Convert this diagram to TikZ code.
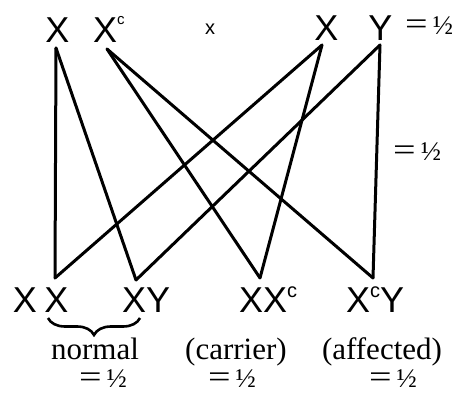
\documentclass[tikz,border=0pt]{standalone}
\usepackage{graphicx}
\usepackage{fontspec}
\setmainfont{Liberation Serif}
\newfontfamily\sansf{Liberation Sans}
\usetikzlibrary{decorations.pathreplacing}
\tikzset{
  gene/.style={inner sep=0pt, anchor=base, font=\sansf\fontsize{36}{36}\selectfont},
  lbl/.style={inner sep=0pt, anchor=base, font=\fontsize{31}{31}\selectfont},
  half/.style={inner sep=0pt, anchor=base, font=\fontsize{27}{27}\selectfont},
  link/.style={line width=3pt, line cap=round},
}
\newcommand{\supc}[2]{\raisebox{#1}{\fontsize{#2}{#2}\selectfont c}}
\newcommand{\eqhalf}{\scalebox{1.25}[1]{\fontsize{32}{32}\selectfont=}\hspace{5pt}½}
\begin{document}
\begin{tikzpicture}[x=1pt,y=-1pt]
\useasboundingbox (0,0) rectangle (461,393);
% top row
\node[gene] (pX) at (57.5,43) {X};
\node[gene, anchor=base west] (pXc) at (93,43) {X\supc{18pt}{15}};
\node[inner sep=0pt, anchor=base, font=\sansf\fontsize{20}{20}\selectfont] (sx) at (210,35) {x};
\node[gene] (mX) at (326.5,41) {X};
\node[gene] (mY) at (380.5,41) {Y};
\node[half, anchor=base west] (h1) at (405,35) {\eqhalf};
\node[half, anchor=base west] (h2) at (393,161) {\eqhalf};
% bottom row
\node[gene] (cX1) at (25,312) {X};
\node[gene] (cX2) at (56.5,312) {X};
\node[gene, anchor=base west] (cXY) at (122,312) {XY};
\node[gene, anchor=base west] (cXXc) at (239,312) {XX\supc{15pt}{20}};
\node[gene, anchor=base west] (cXcY) at (346,312) {X\supc{15pt}{20}Y};
% labels
\node[lbl] (n1) at (95,359) {normal};
\node[lbl] (n2) at (236,359) {(carrier)};
\node[lbl] (n3) at (382,359) {(affected)};
\node[half] (f1) at (103,387) {\eqhalf};
\node[half] (f2) at (232,387) {\eqhalf};
\node[half] (f3) at (393,387) {\eqhalf};
% endpoints
\coordinate (tX) at (56,48);
\coordinate (tXc) at (107,49);
\coordinate (tXr) at (322,45);
\coordinate (tY) at (380,45);
\coordinate (bXX) at (55,278);
\coordinate (bXY) at (136,280);
\coordinate (bXXc) at (260,278);
\coordinate (bXcY) at (373,278);
\draw[link] (tX) -- (bXX);
\draw[link] (tX) -- (bXY);
\draw[link] (tXc) -- (bXXc);
\draw[link] (tXc) -- (bXcY);
\draw[link] (tXr) -- (bXX);
\draw[link] (tXr) -- (bXXc);
\draw[link] (tY) -- (bXY);
\draw[link] (tY) -- (bXcY);
% brace
\coordinate (brL) at (48,318);
\coordinate (brR) at (140,318);
\draw[line width=2.6pt, decorate, decoration={brace, amplitude=17pt}] (brR) -- (brL);
\end{tikzpicture}
\end{document}
